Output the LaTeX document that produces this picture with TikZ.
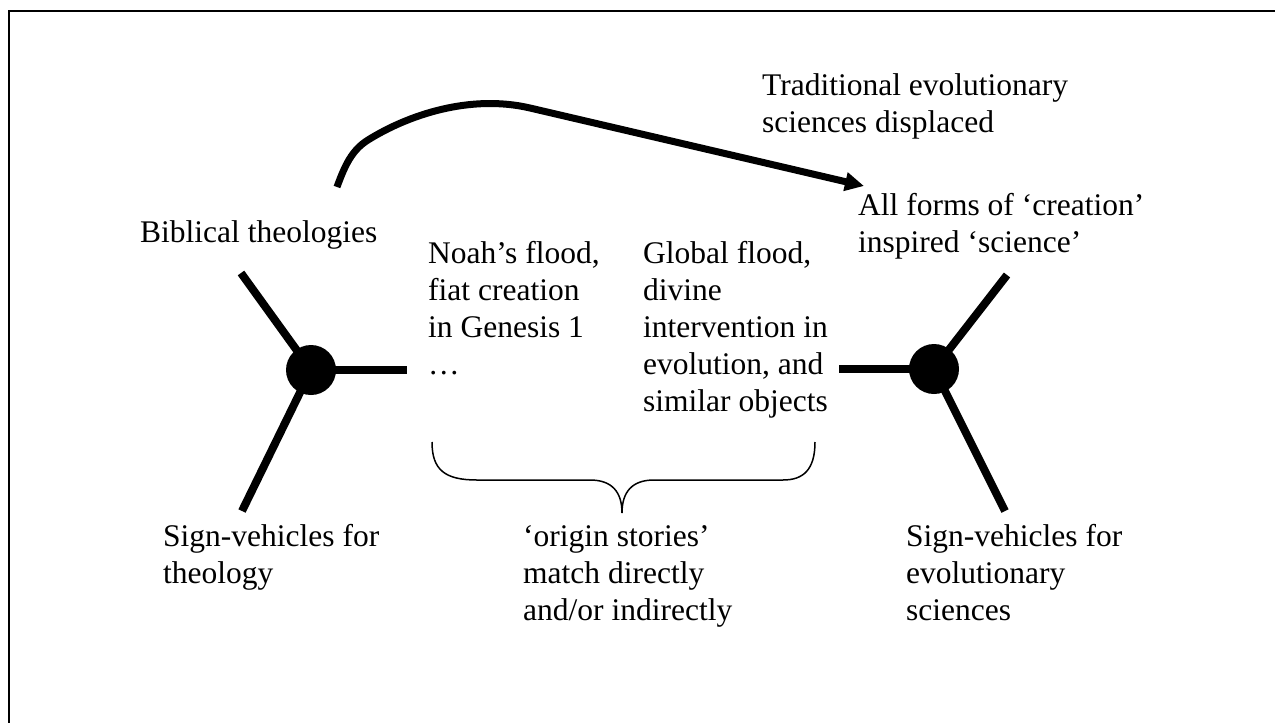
\documentclass[tikz,border=0pt]{standalone}
\usepackage{fontspec}
\setmainfont{Liberation Serif}
\usetikzlibrary{arrows.meta}
\newcommand{\blk}[1]{\vtop{\baselineskip=37pt\lineskiplimit=-1000pt\lineskip=0pt #1}}
\begin{document}
\begin{tikzpicture}[x=1pt,y=-1pt,
  txt/.style={anchor=base west, inner sep=0pt, font=\fontsize{31.5}{37}\selectfont},
  arm/.style={line width=8pt},
  hub/.style={circle, fill=black, minimum size=50pt, inner sep=0pt},
  bracestyle/.style={line width=1.5pt},
  framestyle/.style={line width=1.5pt},
  curvearrow/.style={line width=7pt, -{Triangle[length=19pt,width=18pt]}}
]
\useasboundingbox (0,0) rectangle (1275,723);
\fill[white] (0,0) rectangle (1275,723);
% frame
\draw[framestyle] (9,723) -- (9,11) -- (1275,11);

% texts
\node[txt] (bt) at (140,242) {\blk{\hbox{Biblical theologies}}};
\node[txt] (tr) at (762,95) {\blk{\hbox{Traditional evolutionary}\hbox{sciences displaced}}};
\node[txt] (af) at (858,215) {\blk{\hbox{All forms of `creation'}\hbox{inspired `science'}}};
\node[txt] (nf) at (428,263) {\blk{\hbox{Noah's flood,}\hbox{fiat creation}\hbox{in Genesis 1}\hbox{…}}};
\node[txt] (gf) at (643,263) {\blk{\hbox{Global flood,}\hbox{divine}\hbox{intervention in}\hbox{evolution, and}\hbox{similar objects}}};
\node[txt] (os) at (523,546) {\blk{\hbox{`origin stories'}\hbox{match directly}\hbox{and/or indirectly}}};
\node[txt] (sl) at (163,546) {\blk{\hbox{Sign-vehicles for}\hbox{theology}}};
\node[txt] (sr) at (906,546) {\blk{\hbox{Sign-vehicles for}\hbox{evolutionary}\hbox{sciences}}};

% left junction
\node[hub] (hl) at (311,370) {};
\coordinate (hlA) at (241,273);
\coordinate (hlB) at (242,511);
\coordinate (hlC) at (407,370);
\draw[arm] (hlA) -- (hl.center) -- (hlB);
\draw[arm] (hl.center) -- (hlC);

% right junction
\node[hub] (hr) at (934,369) {};
\coordinate (hrA) at (1007,275);
\coordinate (hrB) at (1005,511);
\coordinate (hrC) at (839,369);
\draw[arm] (hrA) -- (hr.center) -- (hrB);
\draw[arm] (hr.center) -- (hrC);

% curved arrow
\coordinate (arrS) at (337,187);
\coordinate (arrK) at (368,140);
\coordinate (arrM) at (530,108);
\coordinate (arrE) at (864,186);
\draw[curvearrow] (arrS) .. controls (345,165) and (352,150) .. (arrK)
  .. controls (408,115) and (470,94) .. (arrM) -- (arrE);

% brace
\coordinate (brL) at (432,442);
\coordinate (brT) at (622,513);
\coordinate (brR) at (815,442);
\draw[bracestyle] (brL) .. controls (432,470) and (445,480) .. (477,480) -- (590,480)
  .. controls (612,480) and (622,492) .. (brT)
  .. controls (622,492) and (632,480) .. (654,480) -- (783,480)
  .. controls (803,480) and (815,470) .. (brR);
\end{tikzpicture}
\end{document}
